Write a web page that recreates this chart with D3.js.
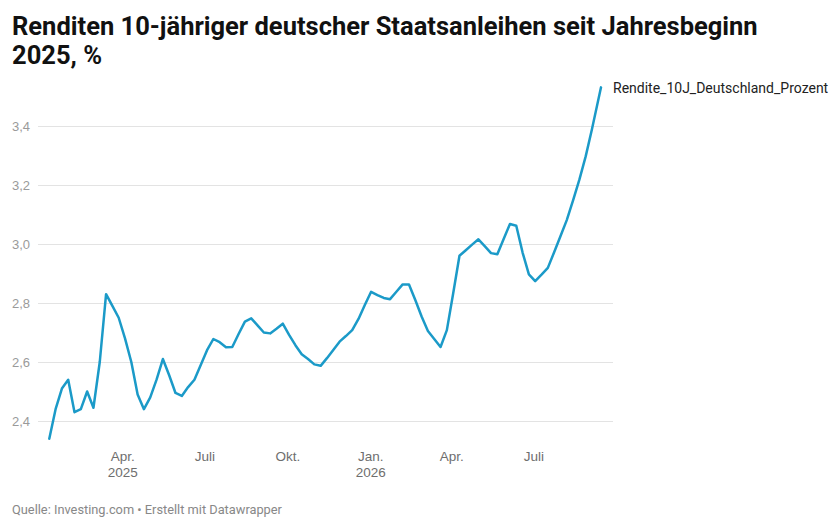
<!DOCTYPE html>
<html>
<head>
<meta charset="utf-8">
<script src="https://cdn.jsdelivr.net/npm/d3@7"></script>
<style>
  body { margin: 0; background: #fff; }
  svg { font-family: Roboto, "Noto Sans", sans-serif; }
  .ejes .domain { display: none; }
  .ygrid line { stroke: #e3e3e3; }
  .ygrid text { fill: #9a9a9a; font-size: 13px; }
  .xaxis text { fill: #6e6e6e; font-size: 13.5px; }
</style>
</head>
<body>
<div id="graf"></div>
<script>
// datos semanales (viernes) + ultimo valor
const fechas = [
  "2025-01-10","2025-01-17","2025-01-24","2025-01-31","2025-02-07","2025-02-14","2025-02-21","2025-02-28",
  "2025-03-07","2025-03-14","2025-03-21","2025-03-28","2025-04-04","2025-04-11","2025-04-18","2025-04-25",
  "2025-05-02","2025-05-09","2025-05-16","2025-05-23","2025-05-30","2025-06-06","2025-06-13","2025-06-20",
  "2025-06-27","2025-07-04","2025-07-11","2025-07-18","2025-07-25","2025-08-01","2025-08-08","2025-08-15",
  "2025-08-22","2025-08-29","2025-09-05","2025-09-12","2025-09-19","2025-09-26","2025-10-03","2025-10-10",
  "2025-10-17","2025-10-24","2025-10-31","2025-11-07","2025-11-14","2025-11-21","2025-11-28","2025-12-05",
  "2025-12-12","2025-12-19","2025-12-26","2026-01-02","2026-01-09","2026-01-16","2026-01-23","2026-01-30",
  "2026-02-06","2026-02-13","2026-02-20","2026-02-27","2026-03-06","2026-03-13","2026-03-20","2026-03-27",
  "2026-04-03","2026-04-10","2026-04-17","2026-04-24","2026-05-01","2026-05-08","2026-05-15","2026-05-22",
  "2026-05-29","2026-06-05","2026-06-12","2026-06-19","2026-06-26","2026-07-03","2026-07-10","2026-07-17",
  "2026-07-24","2026-07-31","2026-08-07","2026-08-14","2026-08-21","2026-08-28","2026-09-04","2026-09-14"
]
const rendite = [
  2.34, 2.44, 2.51, 2.54, 2.43, 2.44, 2.50, 2.445,
  2.60, 2.83, 2.79, 2.75, 2.68, 2.60, 2.49, 2.44,
  2.48, 2.54, 2.61, 2.555, 2.495, 2.485, 2.515, 2.54,
  2.59, 2.64, 2.678, 2.667, 2.65, 2.651, 2.695, 2.737,
  2.748, 2.724, 2.70, 2.697, 2.713, 2.73, 2.692, 2.657,
  2.626, 2.61, 2.592, 2.587, 2.613, 2.641, 2.669, 2.688,
  2.708, 2.746, 2.793, 2.838, 2.827, 2.817, 2.813, 2.838,
  2.863, 2.863, 2.81, 2.754, 2.705, 2.678, 2.651, 2.708,
  2.832, 2.96, 2.979, 2.998, 3.016, 2.993, 2.969, 2.965,
  3.017, 3.068, 3.062, 2.971, 2.897, 2.874, 2.896, 2.919,
  2.972, 3.026, 3.081, 3.148, 3.218, 3.297, 3.39, 3.531
]
const serie = "Rendite_10J_Deutschland_Prozent"

const yTicks = [2.4, 2.6, 2.8, 3.0, 3.2, 3.4]
const xTicks = ["2025-04-01", "2025-07-01", "2025-10-01", "2026-01-01", "2026-04-01", "2026-07-01"]
const xTickLabels = ["Apr.", "Juli", "Okt.", "Jan.", "Apr.", "Juli"]
const xTickYears = ["2025", "", "", "2026", "", ""]

const titulo = ["Renditen 10-jähriger deutscher Staatsanleihen seit Jahresbeginn", "2025, %"]
const fuente = "Quelle: Investing.com • Erstellt mit Datawrapper"

const anchoTotal = 840
const altoTotal = 530
const margins = { left: 38, top: 126, right: 227, bottom: 109 }
const ancho = anchoTotal - margins.left - margins.right
const alto = altoTotal - margins.top - margins.bottom

const parse = d3.timeParse("%Y-%m-%d")
const data = fechas.map((f, i) => ({ fecha: parse(f), valor: rendite[i] }))

const svg = d3.select("#graf")
  .append("svg")
  .attr("width", anchoTotal)
  .attr("height", altoTotal)

const g = svg.append("g")
  .attr("transform", `translate(${margins.left}, ${margins.top})`)

const x = d3.scaleTime()
  .domain([parse("2025-04-01"), parse("2026-07-01")])
  .range([122.3 - margins.left, 533.4 - margins.left])
const y = d3.scaleLinear().domain([2.4, 3.4]).range([alto, 0])

// titulo
svg.selectAll(".titulo")
  .data(titulo)
  .enter()
  .append("text")
  .attr("x", 12)
  .attr("y", (d, i) => 34.5 + i * 29)
  .attr("font-size", 25.5)
  .attr("font-weight", 700)
  .attr("fill", "#111")
  .text((d) => d)

// eje y con lineas de grilla
const yAxis = d3.axisLeft(y)
  .tickValues(yTicks)
  .tickSize(-ancho)
  .tickFormat((d) => d3.format(".1f")(d).replace(".", ","))

const gy = g.append("g").attr("class", "ejes ygrid").call(yAxis)
gy.selectAll("text")
  .attr("x", 12 - margins.left)
  .attr("text-anchor", "start")
  .attr("dy", "0.34em")

// eje x
const xAxis = d3.axisBottom(x)
  .tickValues(xTicks.map(parse))
  .tickSize(0)
  .tickPadding(0)
  .tickFormat((d, i) => xTickLabels[i])

const gx = g.append("g")
  .attr("class", "ejes xaxis")
  .attr("transform", `translate(0, ${alto})`)
  .call(xAxis)
gx.selectAll("text")
  .attr("y", 40)
  .attr("dy", 0)
  .each(function (d, i) {
    if (xTickYears[i]) {
      d3.select(this).append("tspan")
        .attr("x", 0)
        .attr("dy", 16)
        .text(xTickYears[i])
    }
  })

// linea
const linea = d3.line()
  .x((d) => x(d.fecha))
  .y((d) => y(d.valor))

g.append("path")
  .datum(data)
  .attr("fill", "none")
  .attr("stroke", "#1b9ac8")
  .attr("stroke-width", 2.5)
  .attr("stroke-linejoin", "round")
  .attr("stroke-linecap", "round")
  .attr("d", linea)

const ultimo = data[data.length - 1]
g.append("text")
  .attr("x", x(ultimo.fecha) + 12)
  .attr("y", y(ultimo.valor))
  .attr("dy", "0.4em")
  .attr("font-size", 14)
  .attr("fill", "#222")
  .text(serie)

// fuente
svg.append("text")
  .attr("x", 12)
  .attr("y", 514)
  .attr("font-size", 12.8)
  .attr("fill", "#888")
  .text(fuente)
</script>
</body>
</html>
